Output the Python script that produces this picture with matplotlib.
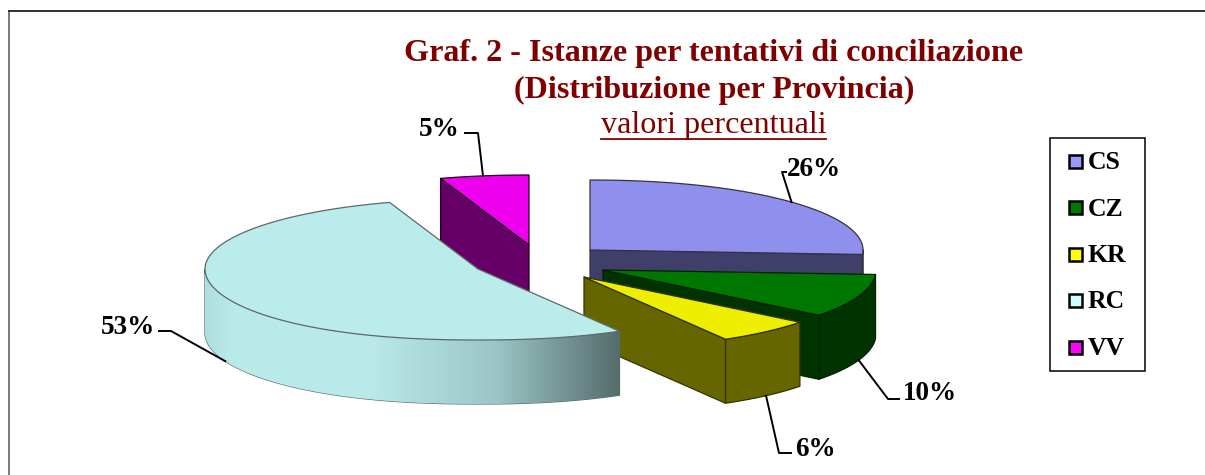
"""Graf. 2 - torta 3D esplosa delle istanze per provincia, disegnata a mano con Matplotlib."""
import numpy as np
import matplotlib
matplotlib.use("Agg")
import matplotlib.pyplot as plt
from matplotlib.colors import LinearSegmentedColormap
from matplotlib.patches import Polygon, Rectangle

plt.rcParams["font.family"] = ["Liberation Serif", "DejaVu Serif"]

# dati
province = ["CS", "CZ", "KR", "RC", "VV"]
percentuali = [26, 10, 6, 53, 5]

# stile delle fette
colori_sopra = {"CS": "#8F8FEE", "CZ": "#007700", "KR": "#EEEE00", "RC": "#BBECEC", "VV": "#EE00EE"}
colori_lato = {"CS": "#3F3F6A", "CZ": "#003300", "KR": "#666600", "RC": "#BBECEC", "VV": "#660066"}
colori_legenda = {"CS": "#9999FF", "CZ": "#007700", "KR": "#FFFF00", "RC": "#CCFFFF", "VV": "#FF00FF"}
bordi = {"CS": "#333344", "CZ": "#002200", "KR": "#333300", "RC": "#606868", "VV": "#220022"}

# geometria (pixel): centro di ogni fetta esplosa, semiassi e spessore
centri = {"CS": (590, 250), "CZ": (603, 270), "KR": (584, 277), "RC": (478, 269), "VV": (529, 245)}
RX, SPESSORE = 273, 64
RY_DIETRO, RY_DAVANTI = 70, 71
# l'ellisse del grafico originale e' un po' squadrata, davanti piu' che dietro
ESP_DIETRO, ESP_DAVANTI = 0.96, 0.90

# etichette: gomito della linea guida, fine della linea, posizione del testo
gomiti = {"CS": (782, 172), "CZ": (888, 399), "KR": (779, 453), "RC": (171, 331), "VV": (478, 133)}
fine_linea = {"CS": (786, 172), "CZ": (899, 399), "KR": (791, 453), "RC": (159, 331), "VV": (465, 133)}
pos_testo = {"CS": (787, 169), "CZ": (903, 393), "KR": (795, 449), "RC": (155, 327), "VV": (460, 129)}
ALLINEA = {"CS": "left", "CZ": "left", "KR": "left", "RC": "right", "VV": "right"}


def bordo(centro, gradi):
    """Punti del bordo superiore per angoli in gradi, in senso orario da ore 12."""
    t = np.radians(gradi)
    s, c = np.sin(t), np.cos(t)
    esp = np.where(c < 0, ESP_DAVANTI, ESP_DIETRO)
    ry = np.where(c < 0, RY_DAVANTI, RY_DIETRO)
    return centro[0] + RX * np.sign(s) * np.abs(s) ** esp, centro[1] - ry * c


def disegna_fetta(ax, nome, inizio, fine):
    centro = centri[nome]
    kw = dict(edgecolor=bordi[nome], linewidth=0.9, joinstyle="round")

    # parete esterna, solo la parte rivolta verso chi guarda
    a, b = max(inizio, 90), min(fine, 270)
    if a < b:
        x, y = bordo(centro, np.linspace(a, b, 80))
        punti = np.r_[np.c_[x, y], np.c_[x[::-1], y[::-1] + SPESSORE]]
        parete = Polygon(punti, facecolor=colori_lato[nome], zorder=1, **kw)
        ax.add_patch(parete)
        if nome == "RC":
            sfuma = LinearSegmentedColormap.from_list(
                "rc", [(0, "#AEDEDE"), (0.06, "#B9EBEB"), (0.4, "#B9E9E9"), (0.7, "#9CC6C6"), (1, "#566C6C")])
            img = ax.imshow(np.linspace(0, 1, 256)[None, :], cmap=sfuma, aspect="auto", zorder=1,
                            extent=[x.min(), x.max(), y.max() + SPESSORE, y.min()])
            img.set_clip_path(parete)

    # pareti radiali rivolte verso chi guarda
    for angolo, visibile in ((inizio, np.sin(np.radians(inizio)) < -1e-6),
                             (fine, np.sin(np.radians(fine)) > 1e-6)):
        if visibile:
            x, y = bordo(centro, np.array([angolo]))
            punti = [centro, (x[0], y[0]), (x[0], y[0] + SPESSORE), (centro[0], centro[1] + SPESSORE)]
            ax.add_patch(Polygon(punti, facecolor=colori_lato[nome], zorder=1, **kw))

    # faccia superiore
    x, y = bordo(centro, np.linspace(inizio, fine, 120))
    punti = np.r_[[centro], np.c_[x, y]]
    ax.add_patch(Polygon(punti, facecolor=colori_sopra[nome], zorder=1, **kw))


fig = plt.figure(figsize=(12.05, 4.75), dpi=100)
ax = fig.add_axes([0, 0, 1, 1])
ax.set_xlim(0, 1205)
ax.set_ylim(475, 0)
ax.axis("off")

# cornice dell'area del grafico: a destra e in basso resta fuori dall'immagine
ax.plot([9, 9], [480, 11], color="#707070", linewidth=1.3, zorder=0)
ax.plot([9, 1210], [11, 11], color="#202020", linewidth=1.3, zorder=0)

# angoli delle fette dai valori
fine_cum = np.cumsum(percentuali) * 3.6
inizio_cum = fine_cum - np.array(percentuali) * 3.6
angoli = {n: (i, f) for n, i, f in zip(province, inizio_cum, fine_cum)}

# ordine del pittore: ogni fetta copre quelle precedenti
for nome in ["VV", "CS", "CZ", "KR", "RC"]:
    disegna_fetta(ax, nome, *angoli[nome])

for nome, valore in zip(province, percentuali):
    inizio, fine = angoli[nome]
    medio = (inizio + fine) / 2
    x, y = bordo(centri[nome], np.array([medio]))
    y0 = y[0] + (SPESSORE if np.cos(np.radians(medio)) < 0 else 0)
    gx, gy = gomiti[nome]
    fx, fy = fine_linea[nome]
    ax.plot([x[0], gx, fx], [y0, gy, fy], color="black", linewidth=1.4, zorder=3)
    tx, ty = pos_testo[nome]
    ax.text(tx, ty, f"{valore}%", fontsize=19.5, fontweight="bold", color="black",
            ha=ALLINEA[nome], va="center", zorder=4)

# titolo
TITOLO = "#800000"
ax.text(714, 54, "Graf. 2 - Istanze per tentativi di conciliazione", fontsize=23.1, fontweight="bold",
        color=TITOLO, ha="center", va="center")
ax.text(714, 90, "(Distribuzione per Provincia)", fontsize=23.1, fontweight="bold",
        color=TITOLO, ha="center", va="center")
ax.text(714, 126, "valori percentuali", fontsize=23.1, color=TITOLO, ha="center", va="center")
ax.plot([601, 826], [139, 139], color=TITOLO, linewidth=1.3)

# legenda
ax.add_patch(Rectangle((1049.5, 137.5), 95.5, 233, facecolor="white", edgecolor="black", linewidth=1.1, zorder=2))
for i, nome in enumerate(province):
    yc = 161 + i * 46.5
    ax.add_patch(Rectangle((1068.5, yc - 6.5), 13, 13, facecolor=colori_legenda[nome],
                           edgecolor="black", linewidth=1.8, zorder=3))
    ax.text(1088, yc + 1.5, nome, fontsize=18.5, fontweight="bold", color="black", ha="left", va="center", zorder=3)

fig.savefig("out.png", dpi=100)
